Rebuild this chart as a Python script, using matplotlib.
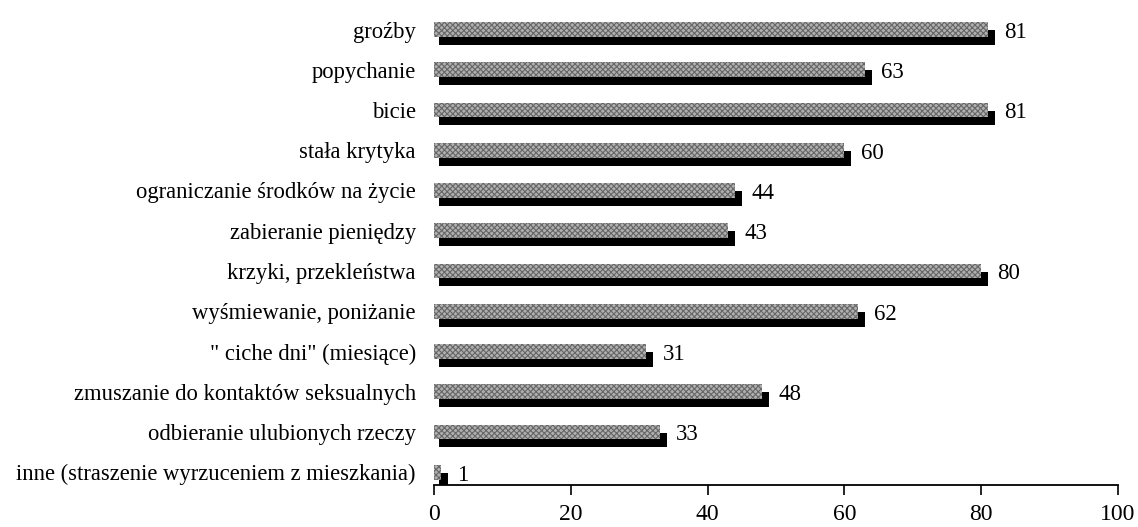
import numpy as np
import matplotlib
matplotlib.use("Agg")
import matplotlib.pyplot as plt

plt.rcParams['font.family'] = ['Liberation Serif', 'DejaVu Serif']
plt.rcParams['hatch.linewidth'] = 0.8

labels = ["groźby", "popychanie", "bicie", "stała krytyka",
          "ograniczanie środków na życie", "zabieranie pieniędzy",
          "krzyki, przekleństwa", "wyśmiewanie, poniżanie",
          "\" ciche dni\" (miesiące)", "zmuszanie do kontaktów seksualnych",
          "odbieranie ulubionych rzeczy",
          "inne (straszenie wyrzuceniem z mieszkania)"]
values = [81, 63, 81, 60, 44, 43, 80, 62, 31, 48, 33, 1]

n = len(values)
y = np.arange(n)[::-1]
h = 0.37

fig = plt.figure(figsize=(11.38, 5.27), dpi=100)
ax = fig.add_axes([434/1138, 42/527, 684/1138, 485/527])

# black "shadow" behind each bar
ax.barh(y - 0.2, np.array(values) + 0.3, left=0.7, height=h,
        color="black", zorder=1)
# dotted grey bar on top
ax.barh(y, values, height=h, facecolor="#b0b0b0", edgecolor="#666666",
        hatch="xxxxxx", linewidth=0, zorder=2)

for yi, v in zip(y, values):
    ax.text(v + 2.4, yi - 0.07, str(v), va="center", ha="left", fontsize=16.5)

ax.set_xlim(0, 100)
ax.set_ylim(-0.317, 11.733)
ax.set_xticks(range(0, 101, 20))
ax.set_yticks(y)
ax.set_yticklabels(labels)
ax.tick_params(axis="y", length=0, pad=13, labelsize=16.3)
ax.tick_params(axis="x", direction="out", length=7, width=1.2, pad=7, labelsize=17)
for s in ["left", "top", "right"]:
    ax.spines[s].set_visible(False)
ax.spines["bottom"].set_linewidth(1.3)

fig.savefig("out.png", dpi=100)
